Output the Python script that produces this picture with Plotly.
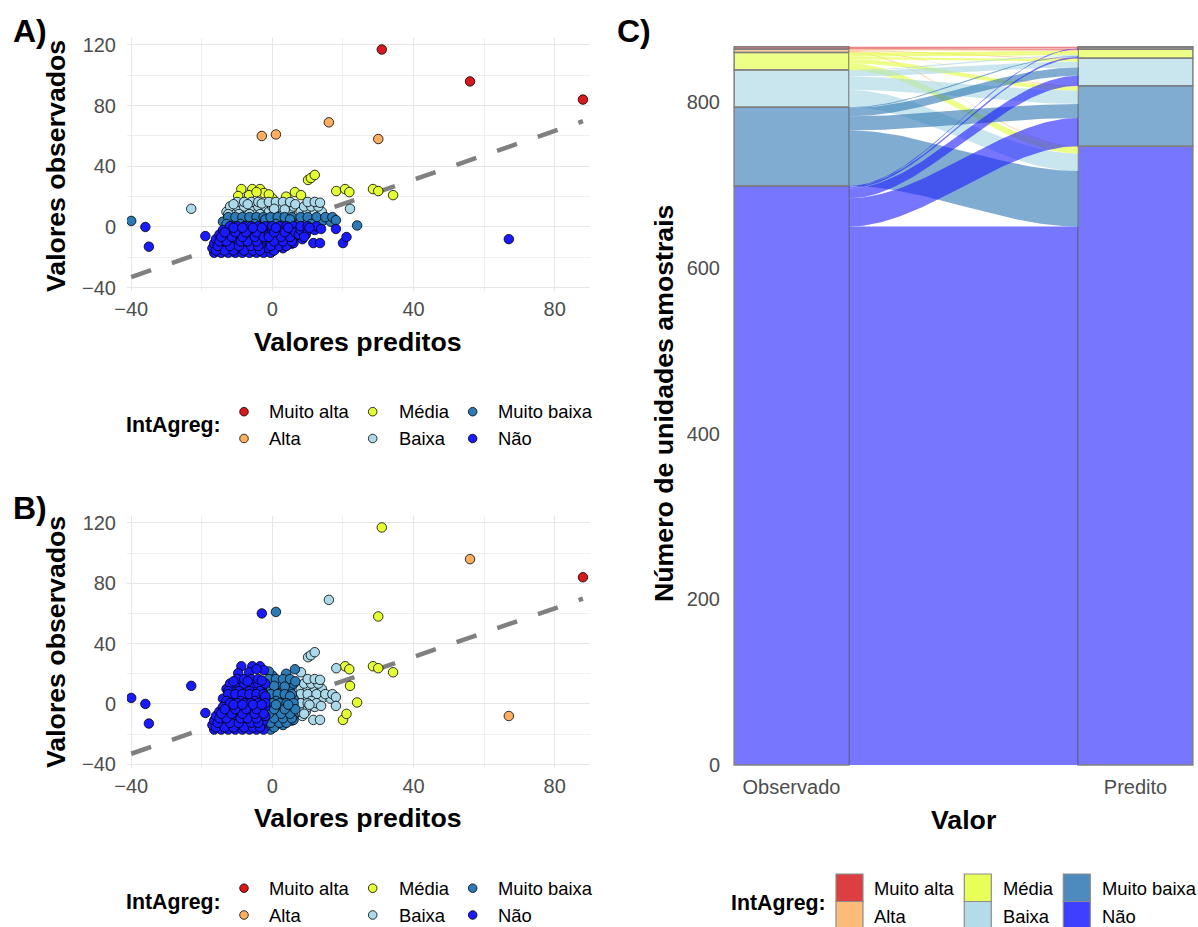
import plotly.graph_objects as go

W, H = 1198, 927
FONT = "Liberation Sans, Arial, Helvetica, sans-serif"
TICK_COLOR = "#4D4D4D"

# ---------------- data ----------------
class_names = ["Muito alta", "Alta", "Média", "Baixa", "Muito baixa", "Não"]
class_codes = ["MA", "A", "M", "B", "MB", "N"]
point_colors = ["#D7191C", "#FDAE61", "#E6FF33", "#ABD9E9", "#2C7BB6", "#1A1AFF"]
alluvial_colors = ["#D7191C", "#FDAE61", "#E3FF39", "#A5D5E3", "#2B74B2", "#1A1AFF"]

# points grouped by (observed class, predicted class): (predicted values, observed values)
points = {
    ("MA", "M"): ([31], [117]),
    ("MA", "A"): ([56], [96]),
    ("MA", "MA"): ([88], [84]),
    ("A", "N"): ([-3], [60]),
    ("A", "MB"): ([1], [61]),
    ("A", "B"): ([16], [69]),
    ("A", "M"): ([30], [58]),
    ("M", "N"): ([-8.8, -5.7, -3.5, -2.4, -9.7, -6.6, -4.5],
                 [25, 25, 25, 22.4, 20.4, 21, 23]),
    ("M", "MB"): ([0, 3.9, 6.4, -1], [18.8, 20, 23, 21.5]),
    ("M", "B"): ([8.1, 10.1, 10.9, 12, 18.1], [21, 31, 32.3, 34.3, 23.7]),
    ("M", "M"): ([20.6, 21.8, 28.5, 30, 34.2], [25, 23, 25, 23.7, 21]),
    ("B", "N"): ([-13, -11, -9, -7, -5, -3, -12, -10, -8, -6, -4, -2, -10, -8, -6, -4, -23,
                  -12.5, -9.5, -6.5, -3.5, -11, -7, -3],
                 [10, 10, 10, 10, 10, 10, 13.5, 13.5, 13.5, 13.5, 13.5, 13.5, 16.5, 16.5, 16.5, 16.5, 12,
                  8.5, 8.5, 8.5, 8.5, 15, 15, 15.5]),
    ("B", "MB"): ([-1, 1, 3, 5, 0, 2, 4, 6, -1, 1, 3, 5, 0.5, 3.5, 6.5],
                  [10, 10, 10, 10, 13.5, 13.5, 13.5, 13.5, 16.5, 16.5, 16.5, 16.5, 12, 11.5, 15]),
    ("B", "B"): ([8, 10, 12, 14, 9, 11, 13, 10, 12, 13.5],
                 [10, 10, 10, 10, 13.5, 13.5, 13.5, 16.5, 16.5, 16]),
    ("B", "M"): ([22], [12]),
    ("MB", "N"): ([-14, -12, -10, -8, -6, -4, -2, -12.5, -10.5, -8.5, -6.5, -4.5, -2.5, -40,
                   -13, -9, -5, -2],
                  [3.5, 3.5, 3.5, 3.5, 3.5, 3.5, 3.5, 6.5, 6.5, 6.5, 6.5, 6.5, 6.5, 4,
                   2, 2, 2, 5]),
    ("MB", "MB"): ([0, 2, 4, 6, -0.5, 1.5, 3.5, 5.5, 1, 5],
                   [3.5, 3.5, 3.5, 3.5, 6.5, 6.5, 6.5, 6.5, 2, 5]),
    ("MB", "B"): ([8, 10, 12, 14, 16.5, 8, 10, 12.5, 15, 17, 11, 18],
                  [3.5, 3.5, 3.5, 3.5, 3.5, 6.5, 6.5, 6.5, 6.5, 6.5, 2, 4.5]),
    ("MB", "M"): ([24], [1]),
    ("N", "N"): ([-16.5, -14.5, -12.5, -10.5, -8.5, -6.5, -4.5, -2.5,
                  -17, -15, -13, -11, -9, -7, -5, -3,
                  -16.5, -14.5, -12.5, -10.5, -8.5, -6.5, -4.5, -2.5,
                  -16, -14, -12, -10, -8, -6, -4, -2,
                  -15, -13, -11, -9, -7, -5, -3,
                  -14, -12, -10, -8, -6, -4, -2,
                  -12, -10, -8, -6, -4, -2,
                  -16, -13.5, -11, -8, -5.5, -3.5,
                  -15.5, -12, -9.5, -6, -4,
                  -15, -13, -9, -7, -4.5,
                  -14.5, -11.5, -8.5, -5, -2.5,
                  -13.5, -10.5, -7.5, -4.5,
                  -11, -8.5, -5.5, -3,
                  -36, -35, -19],
                 [-17, -17, -17, -17, -17, -17, -17, -17,
                  -14, -14, -14, -14, -14, -14, -14, -14,
                  -11, -11, -11, -11, -11, -11, -11, -11,
                  -8, -8, -8, -8, -8, -8, -8, -8,
                  -5, -5, -5, -5, -5, -5, -5,
                  -2, -2, -2, -2, -2, -2, -2,
                  0.5, 0.5, 0.5, 0.5, 0.5, 0.5,
                  -15.5, -15.5, -15.5, -15.5, -15.5, -15.5,
                  -12.5, -12.5, -12.5, -12.5, -12.5,
                  -9.5, -9.5, -9.5, -9.5, -9.5,
                  -6.5, -6.5, -6.5, -6.5, -6.5,
                  -3.5, -3.5, -3.5, -3.5,
                  -0.5, -0.5, -0.5, -0.5,
                  0, -13, -6]),
    ("N", "MB"): ([-0.5, -1, 1, 3, -0.5, 1.5, 3.5, 5.5, 0, 2, 4, 6, -1, 1, 3, 5, 0, 2, 4, 6, 0, 2, 4, 6, 6,
                   0.5, -0.5, 2, 4, 0.5, 3, 5.5, -1, 2.5, 5, 0.5, 3.5, 6.5, 1, 4.5],
                  [-17, -14, -14, -14, -11, -11, -11, -11, -8, -8, -8, -8, -5, -5, -5, -5,
                   -2, -2, -2, -2, 0.5, 0.5, 0.5, 0.5, -10.6,
                   -15.5, -12.5, -12.5, -12.5, -9.5, -9.5, -9.5, -6.5, -6.5, -6.5, -3.5, -3.5, -3.5,
                   -0.5, -0.5]),
    ("N", "B"): ([8.5, 7.5, 9.5, 8, 10, 12, 8, 10, 12.5, 11.6, 13.5, 13.8, 18, 9, 10.5],
                 [-8, -5, -5, -2, -2, -2, 0.5, 0.5, 0.5, -10.6, -10.6, -1.3, -1.3, -6.5, -0.5]),
    ("N", "M"): ([20, 21], [-10.6, -6.6]),
    ("N", "A"): ([67], [-8]),
}

fit_intercept = -0.9
fit_slope = 0.803

scatter_x_ticks = [-40, 0, 40, 80]
scatter_x_minor = [-20, 20, 60]
scatter_y_ticks = [-40, 0, 40, 80, 120]
scatter_y_minor = [-20, 20, 60, 100]

alluvial_axes = ["Observado", "Predito"]
alluvial_y_ticks = [0, 200, 400, 600, 800]
# counts: rows = observed class, columns = predicted class (class_codes order)
counts = [
    [1, 1, 1, 0, 0, 0],
    [0, 0, 1, 1, 1, 1],
    [0, 0, 5, 3, 5, 8],
    [0, 0, 1, 7, 16, 21],
    [0, 0, 1, 10, 17, 67],
    [0, 1, 2, 12, 34, 650],
]

# ---------------- helpers ----------------
def pxx(p):
    return p / W


def pxy(p):
    return 1 - p / H


def rgba(hexc, a):
    hexc = hexc.lstrip("#")
    r, g, b = int(hexc[0:2], 16), int(hexc[2:4], 16), int(hexc[4:6], 16)
    return f"rgba({r},{g},{b},{a})"


fig = go.Figure()

# ---------------- scatter panels ----------------
all_x = [v for k in points for v in points[k][0]]
fit_x = [min(all_x), max(all_x)]
fit_y = [fit_intercept + fit_slope * v for v in fit_x]

for panel, (xa, ya) in enumerate([("x", "y"), ("x2", "y2")]):
    fig.add_trace(go.Scatter(x=fit_x, y=fit_y, mode="lines", xaxis=xa, yaxis=ya,
                             line=dict(color="#808080", width=4.5, dash="21px,22px"),
                             hoverinfo="skip"))
    for ci in range(len(class_codes)):
        code = class_codes[ci]
        xs, ys = [], []
        for (obs, pred), (px_, py_) in points.items():
            key = obs if panel == 0 else pred
            if key == code:
                xs += px_
                ys += py_
        if not xs:
            continue
        fig.add_trace(go.Scatter(
            x=xs, y=ys, mode="markers", xaxis=xa, yaxis=ya, name=class_names[ci],
            marker=dict(size=9.5, color=point_colors[ci], line=dict(color="black", width=0.8))))

# ---------------- alluvial panel ----------------
n = len(class_codes)
obs_tot = [sum(counts[i]) for i in range(n)]
pred_tot = [sum(counts[i][j] for i in range(n)) for j in range(n)]
obs_bottom = [sum(obs_tot[k] for k in range(i + 1, n)) for i in range(n)]
pred_bottom = [sum(pred_tot[k] for k in range(j + 1, n)) for j in range(n)]
sw = 1 / 3
x0, x1 = 1 + sw / 2, 2 - sw / 2
NS = 60
ts = [k / (NS - 1) for k in range(NS)]
ss = [t * t * (3 - 2 * t) for t in ts]
xs_curve = [x0 + (x1 - x0) * t for t in ts]

for i in range(n):
    for j in range(n):
        c = counts[i][j]
        if c == 0:
            continue
        yl = obs_bottom[i] + sum(counts[i][k] for k in range(j + 1, n))
        yr = pred_bottom[j] + sum(counts[k][j] for k in range(i + 1, n))
        low = [yl + (yr - yl) * s for s in ss]
        up = [yl + c + (yr - yl) * s for s in ss]
        fig.add_trace(go.Scatter(
            x=xs_curve + xs_curve[::-1], y=low + up[::-1], xaxis="x3", yaxis="y3",
            mode="lines", fill="toself", fillcolor=rgba(alluvial_colors[i], 0.6),
            line=dict(width=0), hoverinfo="skip"))

for side, (tot, bottom) in enumerate([(obs_tot, obs_bottom), (pred_tot, pred_bottom)]):
    for i in range(n):
        if tot[i] == 0:
            continue
        fig.add_trace(go.Bar(
            x=[side + 1], y=[tot[i]], base=[bottom[i]], width=sw, xaxis="x3", yaxis="y3",
            marker=dict(color=rgba(alluvial_colors[i], 0.6), line=dict(color="#808080", width=1.5)),
            hoverinfo="skip"))

# ---------------- axes ----------------
def minus(v):
    return ("\u2212" + str(-v)) if v < 0 else str(v)


xcommon = dict(range=[-41.2, 90], tickvals=scatter_x_ticks, ticktext=[minus(v) for v in scatter_x_ticks],
               showgrid=True, gridcolor="#E6E6E6", gridwidth=1.3, zeroline=False, showline=False,
               ticks="", tickfont=dict(size=20, color=TICK_COLOR, family=FONT),
               minor=dict(tickvals=scatter_x_minor, showgrid=True, gridcolor="#EFEFEF", gridwidth=1),
               ticklabelstandoff=4, automargin=False)
ycommon = dict(range=[-42.2, 124.6], tickvals=scatter_y_ticks, ticktext=[minus(v) for v in scatter_y_ticks],
               showgrid=True, gridcolor="#E6E6E6", gridwidth=1.3, zeroline=False, showline=False,
               ticks="", tickfont=dict(size=20, color=TICK_COLOR, family=FONT),
               minor=dict(tickvals=scatter_y_minor, showgrid=True, gridcolor="#EFEFEF", gridwidth=1),
               ticklabelstandoff=10, automargin=False)

fig.update_layout(
    width=W, height=H, autosize=False, margin=dict(l=0, r=0, t=0, b=0, pad=0),
    paper_bgcolor="white", plot_bgcolor="white", showlegend=False, barmode="overlay",
    font=dict(family=FONT),
    xaxis=dict(domain=[pxx(127), pxx(590)], anchor="y", **xcommon),
    yaxis=dict(domain=[pxy(291), pxy(38)], anchor="x", **ycommon),
    xaxis2=dict(domain=[pxx(127), pxx(590)], anchor="y2", **xcommon),
    yaxis2=dict(domain=[pxy(767.6), pxy(516)], anchor="x2", **ycommon),
    xaxis3=dict(domain=[pxx(733), pxx(1194)], anchor="y3", range=[0.83, 2.17],
                tickvals=[1, 2], ticktext=alluvial_axes, showgrid=False, zeroline=False,
                showline=False, ticks="", tickfont=dict(size=20, color=TICK_COLOR, family=FONT),
                ticklabelstandoff=6, automargin=False),
    yaxis3=dict(domain=[pxy(767), pxy(36)], anchor="x3", range=[-2.4, 880],
                tickvals=alluvial_y_ticks, showgrid=False, zeroline=False, showline=False,
                ticks="", tickfont=dict(size=20, color=TICK_COLOR, family=FONT),
                ticklabelstandoff=12, automargin=False),
)

# ---------------- annotations ----------------
ann = []


def text(x, y, s, size, bold=False, angle=0, xanchor="center", color="black"):
    ann.append(dict(x=pxx(x), y=pxy(y), xref="paper", yref="paper", text=(f"<b>{s}</b>" if bold else s),
                    showarrow=False, xanchor=xanchor, yanchor="middle", textangle=angle,
                    font=dict(size=size, color=color, family=FONT)))


text(11, 31, "A)", 32, True, xanchor="left")
text(11, 508, "B)", 32, True, xanchor="left")
text(615, 31, "C)", 32, True, xanchor="left")
text(56, 166, "Valores observados", 26.7, True, angle=-90)
text(56, 642, "Valores observados", 26.7, True, angle=-90)
text(358, 342, "Valores preditos", 26.7, True)
text(358, 818, "Valores preditos", 26.7, True)
text(664, 404, "Número de unidades amostrais", 26.7, True, angle=-90)
text(963, 820, "Valor", 26.7, True)

shapes = []
# scatter legends
circ_x = [244, 372.7, 472.7]
lab_x = [267, 396.5, 495.5]
for rows, title_y in [([411.7, 438.5], 425), ([888.2, 915], 901.5)]:
    text(124, title_y, "IntAgreg:", 21.3, True, xanchor="left")
    for k in range(n):
        col, row = k // 2, k % 2
        cx, cy, r = circ_x[col], rows[row], 4.3
        shapes.append(dict(type="circle", xref="paper", yref="paper",
                           x0=pxx(cx - r), x1=pxx(cx + r), y0=pxy(cy + r), y1=pxy(cy - r),
                           fillcolor=point_colors[k], line=dict(color="black", width=0.8)))
        text(lab_x[col], rows[row], class_names[k], 18.4, xanchor="left")

# alluvial legend
key_x = [836, 964.3, 1063.3]
key_lab_x = [871.5, 1000.5, 1099.5]
key_rows = [874, 901.5]
text(729, 902.7, "IntAgreg:", 21.3, True, xanchor="left")
for k in range(n):
    col, row = k // 2, k % 2
    kx, ky = key_x[col], key_rows[row]
    shapes.append(dict(type="rect", xref="paper", yref="paper",
                       x0=pxx(kx), x1=pxx(kx + 27), y0=pxy(ky + 27.5), y1=pxy(ky),
                       fillcolor=rgba(alluvial_colors[k], 0.84), line=dict(color="#8C8C8C", width=1.2)))
    text(key_lab_x[col], ky + 14.5, class_names[k], 18.4, xanchor="left")

fig.update_layout(annotations=ann, shapes=shapes)
fig.write_html("out.html",
               post_script="document.body.style.margin='0';document.body.style.padding='0';"
                           "document.body.style.overflow='hidden';")
